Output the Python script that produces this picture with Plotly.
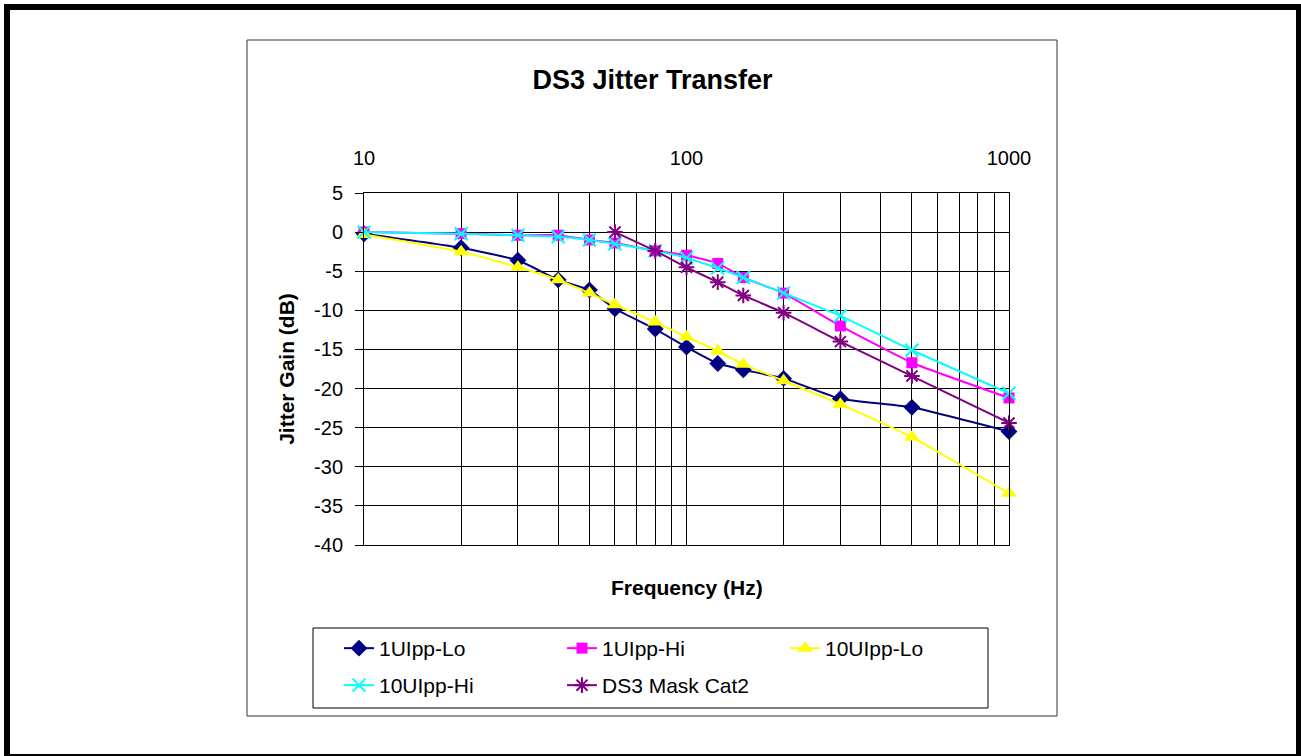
import plotly.graph_objects as go

# ---- data ----
freq = [10, 20, 30, 40, 50, 60, 80, 100, 125, 150, 200, 300, 500, 1000]
lo_1ui = [-0.2, -2.0, -3.6, -6.1, -7.4, -9.8, -12.4, -14.7, -16.8, -17.6, -18.7, -21.3, -22.4, -25.5]
hi_1ui = [0.0, -0.2, -0.4, -0.4, -1.0, -1.4, -2.4, -2.95, -4.0, -5.8, -7.8, -12.0, -16.7, -21.2]
lo_10ui = [-0.3, -2.5, -4.5, -6.1, -7.8, -9.3, -11.5, -13.4, -15.2, -16.9, -19.0, -22.0, -26.2, -33.4]
hi_10ui = [0.0, -0.2, -0.4, -0.6, -1.0, -1.5, -2.4, -3.3, -4.6, -5.8, -7.8, -10.7, -15.1, -20.6]
mask_freq = [60, 80, 100, 125, 150, 200, 300, 500, 1000]
mask_gain = [0.0, -2.4, -4.5, -6.4, -8.1, -10.3, -14.0, -18.4, -24.4]

x_tick_vals = [10, 100, 1000]
x_tick_text = ["10", "100", "1000"]
x_minor_vals = [20, 30, 40, 50, 60, 70, 80, 90, 200, 300, 400, 500, 600, 700, 800, 900]
y_tick_vals = [5, 0, -5, -10, -15, -20, -25, -30, -35, -40]
y_tick_text = ["5", "0", "-5", "-10", "-15", "-20", "-25", "-30", "-35", "-40"]

# ---- layout geometry ----
W, H = 1301, 756
L, R, T, B = 364, 1009, 193, 545
FONT = "Arial, Liberation Sans, sans-serif"


def px2x(px):
    return (px - L) / (R - L)


def py2y(py):
    return (B - py) / (B - T)


fig = go.Figure()

series = [
    ("1UIpp-Lo", freq, lo_1ui, "#000080", "diamond", 13, "legend"),
    ("1UIpp-Hi", freq, hi_1ui, "#FF00FF", "square", 11, "legend"),
    ("10UIpp-Lo", freq, lo_10ui, "#FFFF00", "triangle-up", 14, "legend"),
    ("10UIpp-Hi", freq, hi_10ui, "#00FFFF", "x-thin", 13, "legend2"),
    ("DS3 Mask Cat2", mask_freq, mask_gain, "#800080", "asterisk", 13, "legend2"),
]

for name, xs, ys, color, sym, size, leg in series:
    fig.add_trace(go.Scatter(
        x=xs, y=ys, name=name, mode="lines+markers",
        line=dict(color=color, width=2, shape="spline", smoothing=0.4),
        marker=dict(symbol=sym, size=size, color=color,
                    line=dict(color=color, width=2 if sym in ("x-thin", "asterisk") else 0)),
        cliponaxis=False, legend=leg,
    ))

fig.update_xaxes(
    type="log", range=[1, 3], side="top",
    tickvals=x_tick_vals, ticktext=x_tick_text, ticks="",
    tickfont=dict(family=FONT, size=20, color="black"),
    ticklabelstandoff=19,
    showgrid=True, gridcolor="black", gridwidth=1,
    minor=dict(tickvals=x_minor_vals, showgrid=True, gridcolor="black", gridwidth=1, ticks=""),
    showline=True, linecolor="black", linewidth=1, mirror=True,
    zeroline=False,
)
fig.update_yaxes(
    range=[-40, 5], tickvals=y_tick_vals, ticktext=y_tick_text,
    ticks="outside", ticklen=8, tickcolor="black", tickwidth=1,
    tickfont=dict(family=FONT, size=20, color="black"),
    ticklabelstandoff=8,
    showgrid=True, gridcolor="black", gridwidth=1,
    showline=True, linecolor="black", linewidth=1, mirror=True,
    zeroline=False,
    title=dict(text="<b>Jitter Gain (dB)</b>", font=dict(family=FONT, size=21, color="black"), standoff=13),
)

legend_common = dict(orientation="h", xanchor="left", yanchor="top",
                     entrywidth=178, entrywidthmode="pixels",
                     font=dict(family=FONT, size=21, color="black"),
                     bgcolor="rgba(0,0,0,0)", borderwidth=0)

fig.update_layout(
    width=W, height=H,
    margin=dict(l=L, r=W - R, t=T, b=H - B, autoexpand=False),
    paper_bgcolor="white", plot_bgcolor="white",
    font=dict(family=FONT, color="black"),
    title=dict(text="<b>DS3 Jitter Transfer</b>", font=dict(family=FONT, size=27, color="black"),
               x=652.5 / W, xanchor="center", xref="container",
               y=1 - 80 / H, yanchor="middle", yref="container"),
    legend=dict(x=px2x(339), y=py2y(628), **legend_common),
    legend2=dict(x=px2x(339), y=py2y(665), **legend_common),
    showlegend=True,
    annotations=[dict(text="<b>Frequency (Hz)</b>", xref="paper", yref="paper",
                      x=0.5, y=py2y(587), xanchor="center", yanchor="middle",
                      showarrow=False, font=dict(family=FONT, size=21, color="black"))],
    shapes=[
        dict(type="rect", xref="paper", yref="paper",
             x0=px2x(7), x1=px2x(1299), y0=py2y(757), y1=py2y(7),
             line=dict(color="black", width=6)),
        dict(type="rect", xref="paper", yref="paper",
             x0=px2x(247), x1=px2x(1057), y0=py2y(716), y1=py2y(40),
             line=dict(color="#333333", width=1)),
        dict(type="rect", xref="paper", yref="paper",
             x0=px2x(313), x1=px2x(988), y0=py2y(708), y1=py2y(628),
             line=dict(color="black", width=1)),
    ],
)

fig.write_html("out.html", config={"displayModeBar": False},
               post_script="document.body.style.margin='0';")
